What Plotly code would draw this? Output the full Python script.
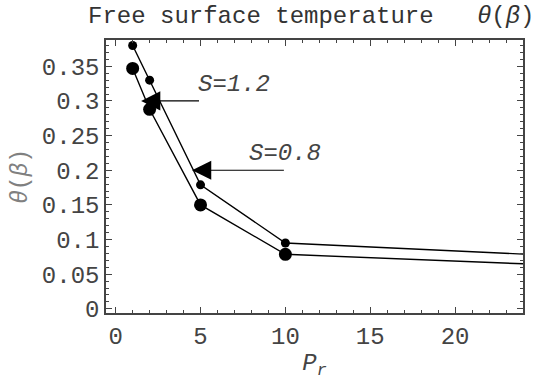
import plotly.graph_objects as go

# Data
pr = [1, 2, 5, 10, 25]
theta_s08 = [0.380, 0.330, 0.179, 0.095, 0.0779]   # S=0.8 (small dots)
theta_s12 = [0.347, 0.288, 0.150, 0.0787, 0.064]   # S=1.2 (large dots)

x_ticks = [0, 5, 10, 15, 20]
y_ticks = [0, 0.05, 0.1, 0.15, 0.2, 0.25, 0.3, 0.35]
y_tick_text = ["0", "0.05", "0.1", "0.15", "0.2", "0.25", "0.3", "0.35"]

MONO = "Liberation Mono"

fig = go.Figure()
fig.add_trace(go.Scatter(x=pr, y=theta_s08, mode="lines+markers",
                         line=dict(color="black", width=1.4),
                         marker=dict(color="black", size=9),
                         showlegend=False))
fig.add_trace(go.Scatter(x=pr, y=theta_s12, mode="lines+markers",
                         line=dict(color="black", width=1.4),
                         marker=dict(color="black", size=13),
                         showlegend=False))

axis_common = dict(showgrid=False, zeroline=False, showline=True,
                   linecolor="#444", linewidth=1.5, mirror="allticks",
                   ticks="inside", tickcolor="#444", ticklen=6, tickwidth=1,
                   tickfont=dict(family=MONO, size=24, color="#444"))

fig.update_xaxes(range=[-0.57, 24], tickvals=x_ticks,
                 minor=dict(ticks="inside", dtick=1, ticklen=3, tickcolor="#444"),
                 title=dict(text="<i>P</i><sub><i>r</i></sub>",
                            font=dict(family=MONO, size=24, color="#444"),
                            standoff=4),
                 **axis_common)
fig.update_yaxes(range=[-0.006, 0.388], tickvals=y_ticks, ticktext=y_tick_text,
                 minor=dict(ticks="inside", dtick=0.01, ticklen=3, tickcolor="#444"),
                 title=dict(text="<i>θ</i>(<i>β</i>)",
                            font=dict(family=MONO, size=23, color="#808080"),
                            standoff=8),
                 **axis_common)

# Arrow labels
for tip_x, tip_y, tail_x in [(1.5, 0.3, 5.0), (4.5, 0.2, 10.0)]:
    fig.add_annotation(x=tip_x, y=tip_y, ax=tail_x, ay=tip_y, xref="x", yref="y",
                       axref="x", ayref="y", showarrow=True, arrowhead=2,
                       arrowsize=3.2, arrowwidth=1.2, arrowcolor="black", text="")
fig.add_annotation(x=4.74, y=0.3245, xref="x", yref="y", xanchor="left",
                   showarrow=False, text="<i>S=1.2</i>",
                   font=dict(family=MONO, size=24, color="#444"))
fig.add_annotation(x=7.75, y=0.224, xref="x", yref="y", xanchor="left",
                   showarrow=False, text="<i>S=0.8</i>",
                   font=dict(family=MONO, size=24, color="#444"))

fig.update_layout(
    width=534, height=380,
    margin=dict(l=106, r=9, t=40, b=62),
    paper_bgcolor="white", plot_bgcolor="white",
    title=dict(text="Free surface temperature\u00a0\u00a0\u00a0<i>θ</i>(<i>β</i>)",
               x=88 / 534, xanchor="left", xref="container",
               y=1 - 15 / 380, yanchor="middle", yref="container",
               pad=dict(l=0, r=0, t=0, b=0),
               font=dict(family=MONO, size=24, color="#333")),
)

fig.write_html("out.html")
